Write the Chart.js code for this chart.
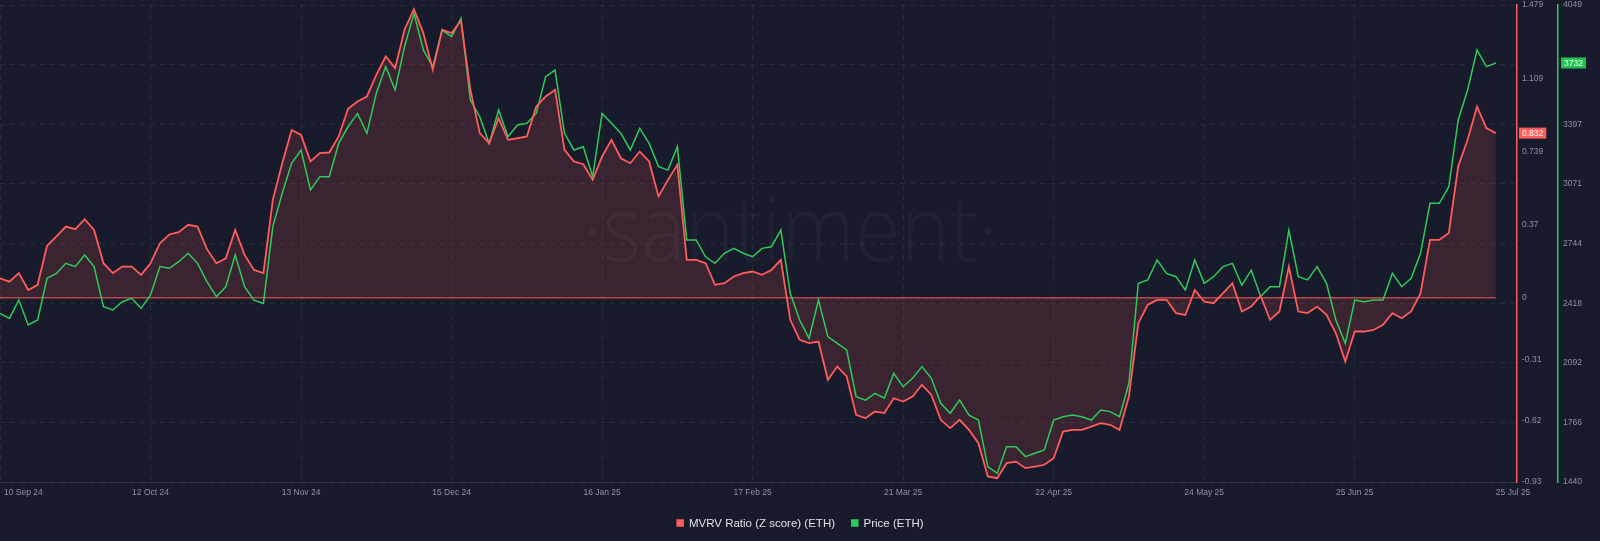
<!DOCTYPE html>
<html>
<head>
<meta charset="utf-8">
<title>MVRV Ratio (Z score) vs Price (ETH)</title>
<script src="https://cdn.jsdelivr.net/npm/chart.js@4.4.1/dist/chart.umd.min.js"></script>
<style>
    html, body { margin: 0; padding: 0; background: #181b2b; }
    canvas { display: block; }
</style>
</head>
<body>
<canvas id="chart" width="1600" height="541"></canvas>
<script>
// one reading every 2 days, starting 10 Sep 24
const STEP_DAYS = 2;

const mvrvZScore = [
    0.099, 0.082, 0.125, 0.040, 0.066, 0.263, 0.310, 0.360, 0.347, 0.397,
    0.343, 0.175, 0.125, 0.158, 0.158, 0.116, 0.175, 0.276, 0.320, 0.332,
    0.369, 0.360, 0.246, 0.175, 0.200, 0.343, 0.217,
    0.141, 0.125, 0.495, 0.680, 0.848, 0.823, 0.689, 0.731, 0.734, 0.815,
    0.955, 0.992, 1.017, 1.126, 1.219, 1.160, 1.354, 1.458, 1.337, 1.152,
    1.354, 1.337, 1.401, 1.051, 0.832, 0.781, 0.907,
    0.798, 0.806, 0.815, 0.966, 1.017, 1.051, 0.747, 0.689, 0.675, 0.596,
    0.714, 0.798, 0.705, 0.680, 0.739, 0.689, 0.512, 0.596, 0.672, 0.192,
    0.192, 0.175, 0.066, 0.074, 0.108, 0.125,
    0.133, 0.116, 0.141, 0.192, -0.111, -0.212, -0.229, -0.221, -0.414, -0.347,
    -0.397, -0.591, -0.608, -0.574, -0.582, -0.507, -0.524, -0.498, -0.439, -0.490,
    -0.616, -0.658, -0.616, -0.667, -0.734, -0.902, -0.911,
    -0.835, -0.827, -0.860, -0.852, -0.843, -0.810, -0.675, -0.667, -0.667, -0.650,
    -0.633, -0.641, -0.667, -0.498, -0.128, -0.035, -0.010, -0.010, -0.077, -0.086,
    0.040, -0.019, -0.027, 0.024, 0.074, -0.069, -0.044,
    0.010, -0.111, -0.069, 0.158, -0.069, -0.077, -0.044, -0.086, -0.179, -0.322,
    -0.170, -0.170, -0.162, -0.136, -0.077, -0.103, -0.069, 0.024, 0.293, 0.293,
    0.327, 0.663, 0.798, 0.966, 0.857, 0.832
];

const ethPrice = [
    2362, 2335, 2435, 2299, 2326, 2554, 2581, 2636, 2618, 2682,
    2618, 2399, 2381, 2426, 2445, 2390, 2463, 2618, 2609, 2645,
    2691, 2636, 2536, 2454, 2508, 2682, 2508,
    2435, 2417, 2837, 3019, 3183, 3256, 3037, 3110, 3110, 3292,
    3383, 3456, 3347, 3566, 3712, 3584, 3821, 4003, 3803, 3712,
    3912, 3876, 3976, 3529, 3438, 3292, 3475,
    3329, 3393, 3402, 3456, 3657, 3693, 3347, 3256, 3274, 3110,
    3456, 3402, 3347, 3256, 3374, 3292, 3165, 3146, 3274, 2764,
    2764, 2672, 2636, 2691, 2718, 2691,
    2672, 2718, 2727, 2818, 2472, 2326, 2226, 2435, 2235, 2198,
    2162, 1907, 1888, 1925, 1898, 2034, 1961, 2007, 2071, 2007,
    1870, 1816, 1888, 1806, 1779, 1524, 1487,
    1633, 1633, 1579, 1597, 1615, 1779, 1797, 1806, 1797, 1779,
    1834, 1825, 1797, 1980, 2527, 2545, 2654, 2581, 2563, 2490,
    2654, 2527, 2563, 2618, 2636, 2517, 2599,
    2454, 2508, 2508, 2818, 2563, 2545, 2618, 2527, 2326, 2198,
    2435, 2426, 2435, 2435, 2581, 2508, 2554, 2691, 2964, 2964,
    3055, 3420, 3584, 3803, 3712, 3732
];

const xTickDays = [0, 32, 64, 96, 128, 160, 192, 224, 256, 288, 318];
const xTickLabels = ['10 Sep 24', '12 Oct 24', '13 Nov 24', '15 Dec 24', '16 Jan 25', '17 Feb 25',
    '21 Mar 25', '22 Apr 25', '24 May 25', '25 Jun 25', '25 Jul 25'];
const mvrvTicks = [-0.93, -0.62, -0.31, 0, 0.37, 0.739, 1.109, 1.479];
const priceTicks = [1440, 1766, 2092, 2418, 2744, 3071, 3397, 3723, 4049];

const RED = '#ff5c5c';
const RED_FILL = 'rgba(255, 92, 92, 0.15)';
const GREEN = '#2fca59';
const GRID = 'rgba(255, 255, 255, 0.07)';
const TICK_COLOR = '#8d91a5';
const FONT = "'Liberation Sans', Arial, sans-serif";

const days = mvrvZScore.map((_, i) => i * STEP_DAYS);
const lastDay = days[days.length - 1];

// right axes: fixed widths, no extra room for the end labels
function fitRightAxis(width) {
    return scale => {
        scale.width = width;
        scale.paddingTop = 0;
        scale.paddingBottom = 0;
    };
}

const watermark = {
    id: 'watermark',
    beforeDraw(chart) {
        const { ctx } = chart;
        ctx.save();
        ctx.font = '300 90px "Open Sans"';
        ctx.fillStyle = 'rgba(255, 255, 255, 0.04)';
        ctx.textAlign = 'center';
        ctx.textBaseline = 'alphabetic';
        const text = '\u00b7santiment\u00b7';
        const w = ctx.measureText(text).width;
        ctx.translate(790, 261);
        ctx.scale(415 / w, 1);
        ctx.fillText(text, 0, 0);
        ctx.restore();
    }
};

const overlays = {
    id: 'overlays',
    afterDraw(chart) {
        const { ctx, chartArea } = chart;
        const xs = chart.scales.x;
        ctx.save();

        // date labels under the plot
        ctx.font = '8.5px ' + FONT;
        ctx.fillStyle = TICK_COLOR;
        ctx.textBaseline = 'middle';
        xs.ticks.forEach((tick, i) => {
            const px = xs.getPixelForValue(tick.value);
            const label = xTickLabels[xTickDays.indexOf(tick.value)];
            if (i === 0) {
                ctx.textAlign = 'left';
                ctx.fillText(label, px + 4, chartArea.bottom + 11);
            } else if (i === xs.ticks.length - 1) {
                ctx.textAlign = 'left';
                ctx.fillText(label, px, chartArea.bottom + 11);
            } else {
                ctx.textAlign = 'center';
                ctx.fillText(label, px, chartArea.bottom + 11);
            }
        });

        // last value badges
        const badge = (scale, value, text, bg, dx) => {
            const y = scale.getPixelForValue(value);
            ctx.font = '8.5px ' + FONT;
            const w = ctx.measureText(text).width + 6;
            ctx.fillStyle = bg;
            ctx.fillRect(scale.left + dx, y - 5.5, w, 11);
            ctx.fillStyle = '#ffffff';
            ctx.textAlign = 'left';
            ctx.fillText(text, scale.left + dx + 3, y + 0.5);
        };
        const lastMvrv = mvrvZScore[mvrvZScore.length - 1];
        const lastPrice = ethPrice[ethPrice.length - 1];
        badge(chart.scales.mvrv, lastMvrv, lastMvrv.toFixed(3), RED, 2);
        badge(chart.scales.price, lastPrice, String(lastPrice), '#22c24f', 3);

        // legend
        const items = chart.data.datasets.filter(ds => !ds.hideInLegend);
        ctx.font = '11.5px ' + FONT;
        const box = 7.5, gap = 5, spacing = 16;
        const widths = items.map(ds => box + gap + ctx.measureText(ds.label).width);
        const total = widths.reduce((a, b) => a + b, 0) + spacing * (items.length - 1);
        let x = chart.width / 2 - total / 2;
        const ly = 523;
        items.forEach((ds, i) => {
            ctx.fillStyle = ds.borderColor;
            ctx.fillRect(x, ly - box / 2, box, box);
            ctx.fillStyle = '#dfe1ea';
            ctx.textAlign = 'left';
            ctx.fillText(ds.label, x + box + gap, ly + 0.5);
            x += widths[i] + spacing;
        });

        ctx.restore();
    }
};

new Chart(document.getElementById('chart'), {
    type: 'line',
    data: {
        datasets: [
            {
                label: 'MVRV Ratio (Z score) (ETH)',
                data: days.map((d, i) => ({ x: d, y: mvrvZScore[i] })),
                yAxisID: 'mvrv',
                borderColor: RED,
                backgroundColor: RED_FILL,
                fill: 'origin',
                borderWidth: 1.8,
                pointRadius: 0,
                tension: 0
            },
            {
                label: 'Price (ETH)',
                data: days.map((d, i) => ({ x: d, y: ethPrice[i] })),
                yAxisID: 'price',
                borderColor: GREEN,
                borderWidth: 1.5,
                pointRadius: 0,
                fill: false,
                tension: 0
            },
            {
                label: 'zero',
                data: [{ x: days[0], y: 0 }, { x: lastDay, y: 0 }],
                yAxisID: 'mvrv',
                borderColor: RED,
                borderWidth: 1,
                pointRadius: 0,
                fill: false,
                hideInLegend: true
            }
        ]
    },
    options: {
        responsive: false,
        animation: false,
        layout: { padding: { top: 5, bottom: 59, left: 0, right: 0 } },
        plugins: {
            legend: { display: false },
            tooltip: { enabled: false },
            filler: { drawTime: 'beforeDatasetsDraw' }
        },
        scales: {
            x: {
                type: 'linear',
                min: 0,
                max: lastDay + 4.5,
                afterBuildTicks: scale => {
                    scale.ticks = xTickDays.map(v => ({ value: v }));
                },
                afterFit: scale => {
                    scale.height = 0;
                    scale.paddingLeft = 0;
                    scale.paddingRight = 0;
                },
                ticks: { display: false },
                grid: {
                    drawTicks: false,
                    color: ctx => (ctx.tick && ctx.tick.value === lastDay) ? 'transparent' : GRID
                },
                border: { display: true, color: GRID, dash: [5, 5] }
            },
            mvrv: {
                type: 'linear',
                position: 'right',
                weight: 0,
                min: mvrvTicks[0],
                max: mvrvTicks[mvrvTicks.length - 1],
                afterBuildTicks: scale => {
                    scale.ticks = mvrvTicks.map(v => ({ value: v }));
                },
                afterFit: fitRightAxis(41),
                ticks: {
                    color: TICK_COLOR,
                    font: { size: 8.5, family: FONT },
                    padding: 5,
                    callback: v => String(v)
                },
                grid: { display: false, drawTicks: false },
                border: { display: true, color: RED, width: 1.5 }
            },
            price: {
                type: 'linear',
                position: 'right',
                weight: 1,
                min: priceTicks[0],
                max: priceTicks[priceTicks.length - 1],
                afterBuildTicks: scale => {
                    scale.ticks = priceTicks.map(v => ({ value: v }));
                },
                afterFit: fitRightAxis(42),
                ticks: {
                    color: TICK_COLOR,
                    font: { size: 8.5, family: FONT },
                    padding: 5,
                    callback: v => String(v)
                },
                grid: { display: true, drawTicks: false, color: GRID },
                border: { display: true, color: GREEN, width: 1.5, dash: [5, 5] }
            }
        }
    },
    plugins: [watermark, overlays]
});
</script>
</body>
</html>
